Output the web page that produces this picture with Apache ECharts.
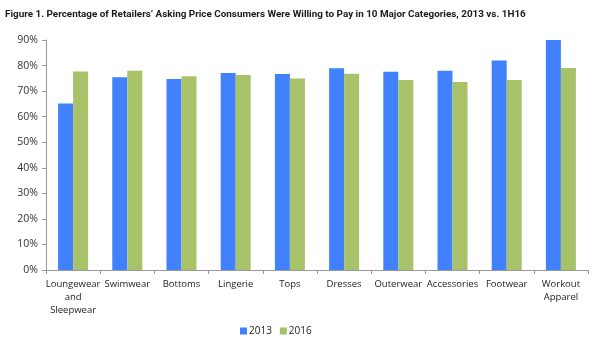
<!DOCTYPE html>
<html><head><meta charset="utf-8">
<script src="https://cdn.jsdelivr.net/npm/echarts@6/dist/echarts.min.js"></script>
<style>html,body{margin:0;padding:0;background:#fff}#c{width:600px;height:349px}</style>
</head><body><div id="c"></div>
<script>
const categories = ['Loungewear\nand\nSleepwear','Swimwear','Bottoms','Lingerie','Tops','Dresses','Outerwear','Accessories','Footwear','Workout\nApparel'];
const values2013 = [65.2, 75.4, 74.7, 77.1, 76.7, 78.9, 77.6, 78.0, 82.0, 90.0];
const values2016 = [77.7, 78.0, 75.8, 76.3, 74.9, 76.8, 74.3, 73.6, 74.3, 79.0];
const seriesNames = ['2013', '2016'];
const titleText = 'Figure 1. Percentage of Retailers\u2019 Asking Price Consumers Were Willing to Pay in 10 Major Categories, 2013 vs. 1H16';

const chart = echarts.init(document.getElementById('c'));
const font = '"Open Sans", "Liberation Sans", sans-serif';
chart.setOption({
  animation: false,
  title: { text: titleText, left: 0, top: 5, textStyle: { fontFamily: 'Roboto, sans-serif', fontSize: 9.9, fontWeight: 'bold', color: '#1a1a1a' } },
  legend: { bottom: 8, left: 235, itemWidth: 7, itemHeight: 7, itemGap: 8, icon: 'rect',
    textStyle: { fontFamily: font, fontSize: 10, color: '#222', padding: [0,0,0,-3] } },
  grid: { left: 46, right: 12, top: 40, bottom: 79, containLabel: false },
  xAxis: { type: 'category', data: categories,
    axisLine: { lineStyle: { color: '#999' } },
    axisTick: { show: true, length: 4, lineStyle: { color: '#999' } },
    axisLabel: { fontFamily: font, fontSize: 9.5, color: '#222', lineHeight: 13, margin: 8, interval: 0 } },
  yAxis: { type: 'value', min: 0, max: 90, interval: 10,
    axisLine: { show: true, lineStyle: { color: '#999' } },
    axisTick: { show: true, length: 4, lineStyle: { color: '#999' } },
    splitLine: { show: false },
    axisLabel: { fontFamily: font, fontSize: 10.5, color: '#333', formatter: '{value}%', margin: 8 } },
  series: [
    { name: seriesNames[0], type: 'bar', data: values2013, barWidth: 15, barGap: '0%', itemStyle: { color: '#4181fd' } },
    { name: seriesNames[1], type: 'bar', data: values2016, barWidth: 15, barGap: '0%', itemStyle: { color: '#a8c26a' } }
  ]
});
</script></body></html>
